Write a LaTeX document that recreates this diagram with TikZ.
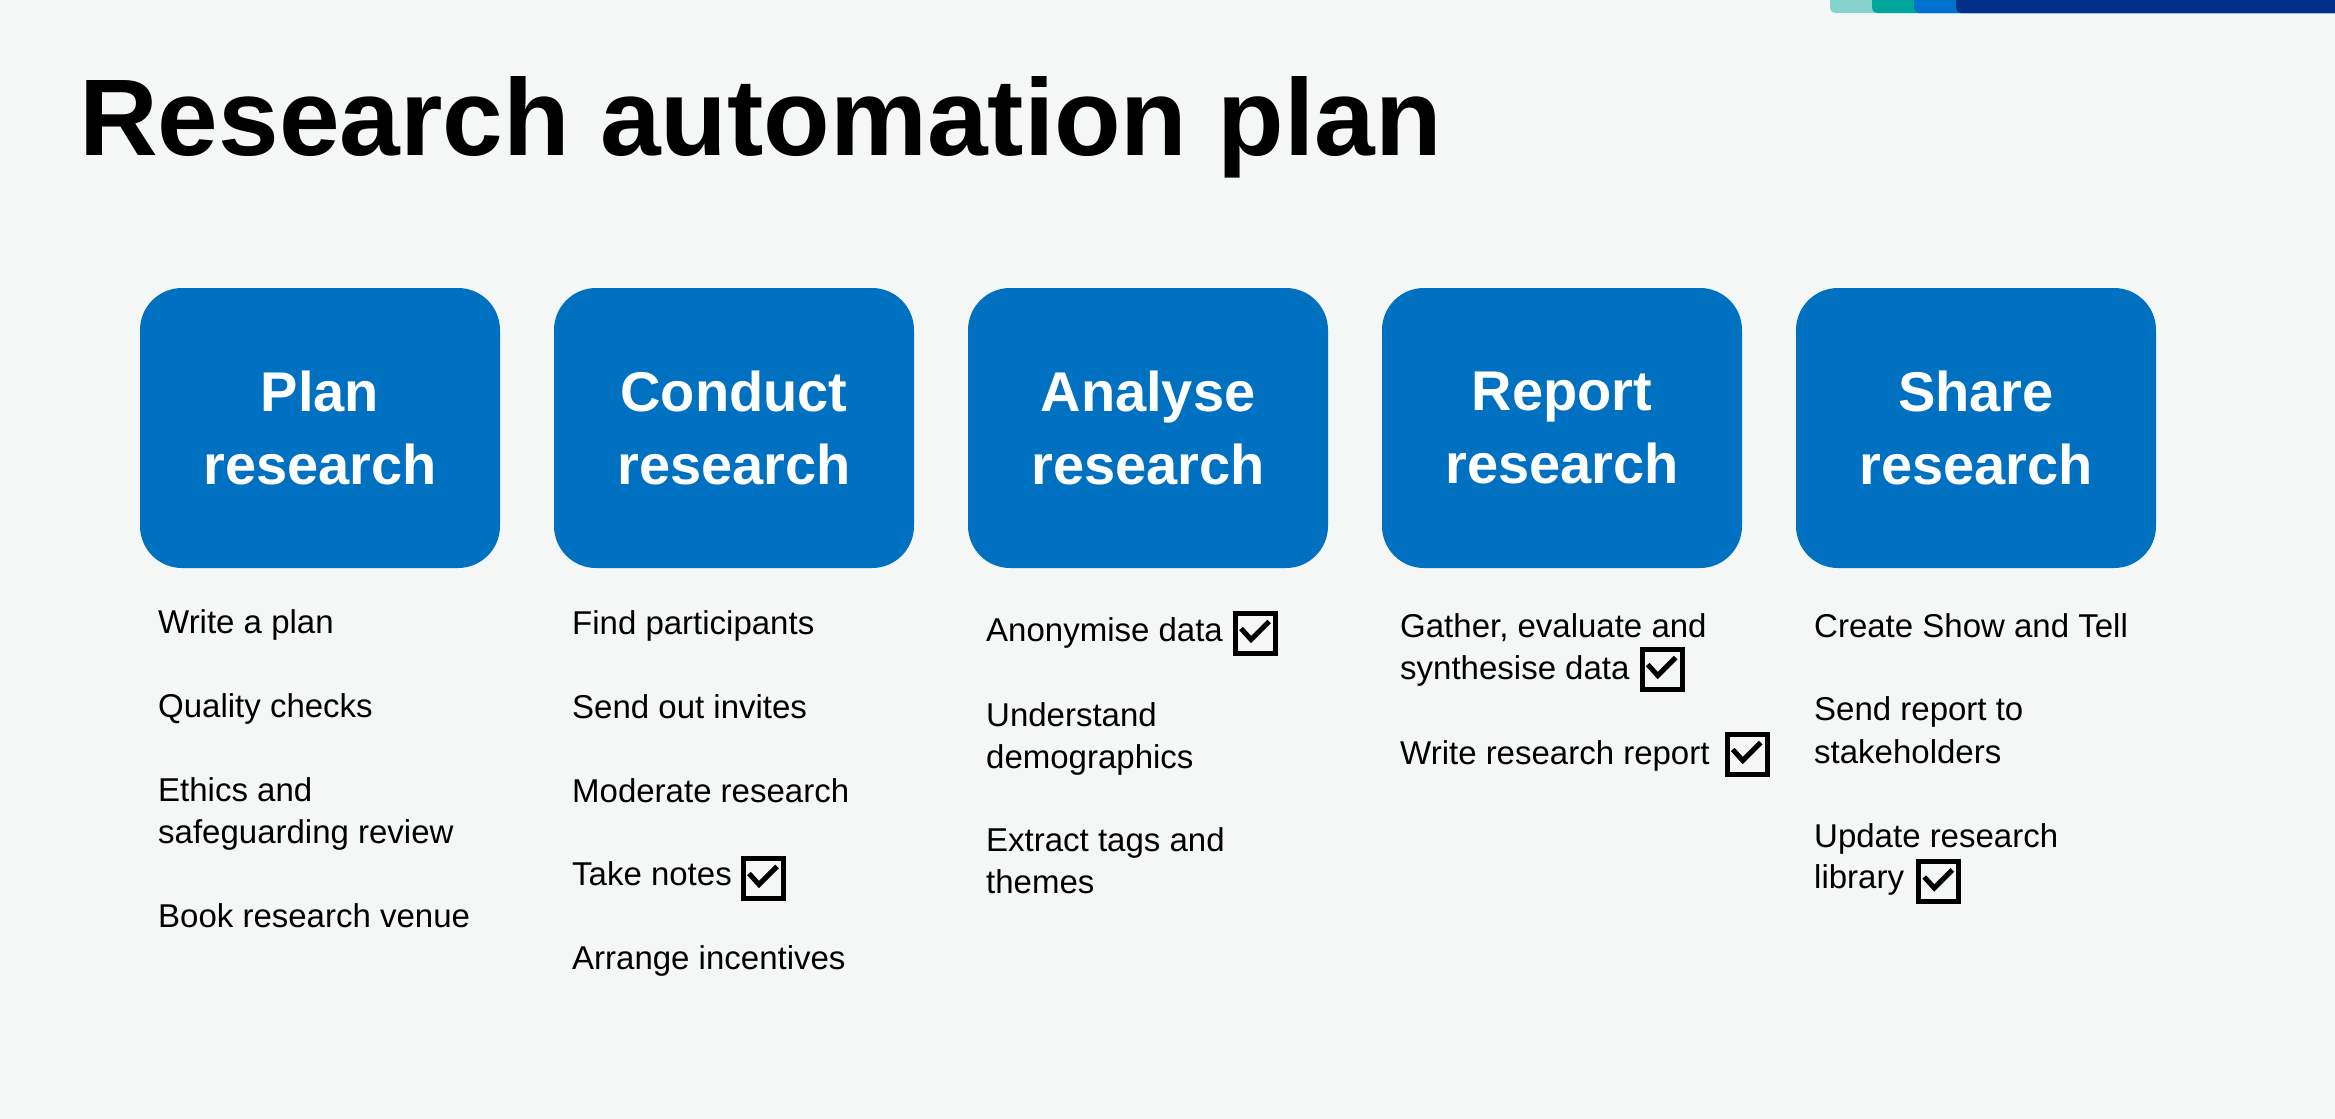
\documentclass[tikz,border=0pt]{standalone}
\usepackage{fontspec}
\setmainfont{Liberation Sans}
\usetikzlibrary{calc}
\definecolor{bg}{HTML}{F5F7F6}
\definecolor{boxblue}{HTML}{0070C0}
\definecolor{barA}{HTML}{86D3CB}
\definecolor{barB}{HTML}{00A59B}
\definecolor{barC}{HTML}{0072CE}
\definecolor{barD}{HTML}{003087}
\newcommand\tickbox[4]{%
  \node[tickframe] (#1) at ([xshift=#3pt,yshift=#4pt]#2.base east) {};
  \draw[tickmark] ([shift={(-14.5,-4.5)}]#1.center) -- ([shift={(-4.5,6.5)}]#1.center) -- ([shift={(13.5,-11.5)}]#1.center);}
\begin{document}
\begin{tikzpicture}[x=1pt,y=-1pt,
  stage/.style={fill=boxblue, rounded corners=42pt, minimum width=360pt, minimum height=280pt,
    text=white, font=\fontsize{56}{73}\selectfont\bfseries, align=center, inner sep=0pt},
  item/.style={anchor=base west, inner sep=0pt, font=\fontsize{33}{42}\selectfont, text=black},
  tickframe/.style={draw=black, line width=5pt, minimum size=40pt, inner sep=0pt, anchor=west},
  tickmark/.style={draw=black, line width=5pt, line cap=butt, line join=miter}]
\path[use as bounding box, fill=bg] (0,0) rectangle (2335,1119);
% top colour bar
\fill[barA, rounded corners=5pt] (1830,-10) rectangle (2345,13);
\fill[barB, rounded corners=5pt] (1872,-10) rectangle (2345,13);
\fill[barC, rounded corners=5pt] (1914,-10) rectangle (2345,13);
\fill[barD, rounded corners=5pt] (1956,-10) rectangle (2345,13);
% title
\node[anchor=base west, inner sep=0pt, font=\fontsize{109}{120}\selectfont\bfseries] (title) at (79,155) {Research automation plan};
% stages
\node[stage] (s1) at (320,428) {Plan\\research};
\node[stage] (s2) at (734,428) {Conduct\\research};
\node[stage] (s3) at (1148,428) {Analyse\\research};
\node[stage] (s4) at (1562,428) {Report\\research};
\node[stage] (s5) at (1976,428) {Share\\research};
% column 1
\node[item] (c1a) at (158,633) {Write a plan};
\node[item] (c1b) at (158,717) {Quality checks};
\node[item] (c1c) at (158,801) {Ethics and};
\node[item] (c1d) at (158,843) {safeguarding review};
\node[item] (c1e) at (158,927) {Book research venue};
% column 2
\node[item] (c2a) at (572,634) {Find participants};
\node[item] (c2b) at (572,718) {Send out invites};
\node[item] (c2c) at (572,802) {Moderate research};
\node[item] (c2d) at (572,885) {Take notes};
\tickbox{k2d}{c2d}{9}{7}
\node[item] (c2e) at (572,969) {Arrange incentives};
% column 3
\node[item] (c3a) at (986,641) {Anonymise data};
\tickbox{k3a}{c3a}{10}{8}
\node[item] (c3b) at (986,726) {Understand};
\node[item] (c3c) at (986,768) {demographics};
\node[item] (c3d) at (986,851) {Extract tags and};
\node[item] (c3e) at (986,893) {themes};
% column 4
\node[item] (c4a) at (1400,637) {Gather, evaluate and};
\node[item] (c4b) at (1400,679) {synthesise data};
\tickbox{k4b}{c4b}{10}{10}
\node[item] (c4c) at (1400,764) {Write research report};
\tickbox{k4c}{c4c}{15}{10}
% column 5
\node[item] (c5a) at (1814,637) {Create Show and Tell};
\node[item] (c5b) at (1814,720) {Send report to};
\node[item] (c5c) at (1814,763) {stakeholders};
\node[item] (c5d) at (1814,847) {Update research};
\node[item] (c5e) at (1814,888) {library};
\tickbox{k5e}{c5e}{12}{6.5}
\end{tikzpicture}
\end{document}
